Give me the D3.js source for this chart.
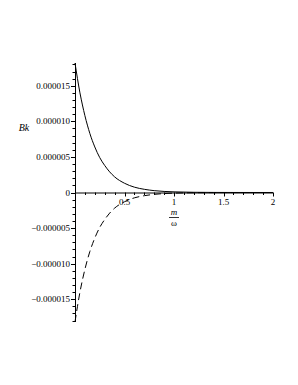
<!DOCTYPE html>
<html><head><meta charset="utf-8">
<script src="https://cdn.jsdelivr.net/npm/d3@7"></script>
<style>body{margin:0;background:#fff}svg{display:block}</style>
</head><body>
<script>
// data (values in units of 1e-6)
const xs = [0, 0.025, 0.05, 0.075, 0.1, 0.15, 0.2, 0.25, 0.3, 0.35, 0.4, 0.5, 0.6, 0.7, 0.8, 0.9, 1.0, 1.2, 1.4, 1.6, 1.8, 2.0];
const upper = [18.2, 16.0, 14.0, 12.3, 10.8, 8.3, 6.4, 4.9, 3.8, 2.9, 2.2, 1.3, 0.75, 0.45, 0.26, 0.15, 0.09, 0.03, 0.01, 0.004, 0.002, 0.001];
const lower = [-18.2, -16.0, -14.0, -12.3, -10.8, -8.3, -6.4, -4.9, -3.8, -2.9, -2.2, -1.3, -0.75, -0.45, -0.26, -0.15, -0.09, -0.03, -0.01, -0.004, -0.002, -0.001];
const xTicks = [0.5, 1, 1.5, 2];
const xTickLabels = ["0.5", "1", "1.5", "2"];
const yTicks = [15, 10, 5, 0, -5, -10, -15];
const yTickLabels = ["0.000015", "0.000010", "0.000005", "0", "\u22120.000005", "\u22120.000010", "\u22120.000015"];

const W = 298, H = 385;
const svg = d3.select("body").append("svg").attr("width", W).attr("height", H);
const x = d3.scaleLinear().domain([0, 2]).range([75, 273]);
const y = d3.scaleLinear().domain([-18.2, 18.2]).range([322, 63]);
const font = "Liberation Serif, Times New Roman, serif";

// axes lines
const g = svg.append("g").attr("stroke", "#000").attr("stroke-width", 1);
g.append("line").attr("x1", x(0)).attr("x2", x(2)).attr("y1", y(0)+0.5).attr("y2", y(0)+0.5);
g.append("line").attr("x1", x(0)+0.5).attr("x2", x(0)+0.5).attr("y1", y(18.2)).attr("y2", y(-18.2));

// x minor ticks
const xMinor = d3.range(0.1, 2.001, 0.1);
g.selectAll(".xm").data(xMinor).enter().append("line")
  .attr("x1", d => Math.round(x(d))+0.5).attr("x2", d => Math.round(x(d))+0.5)
  .attr("y1", y(0)).attr("y2", d => y(0) + (Math.abs(d*2 - Math.round(d*2)) < 1e-6 ? 4 : 2.5));
// y minor ticks
const yMinor = d3.range(-18, 18.001, 1);
g.selectAll(".ym").data(yMinor).enter().append("line")
  .attr("y1", d => Math.round(y(d))+0.5).attr("y2", d => Math.round(y(d))+0.5)
  .attr("x1", x(0)).attr("x2", d => x(0) - (d % 5 === 0 ? 4 : 2.5));

// tick labels
svg.selectAll(".xl").data(xTicks).enter().append("text")
  .attr("x", d => x(d)).attr("y", y(0) + 12)
  .attr("text-anchor", "middle").attr("font-family", font).attr("font-size", 9)
  .text((d, i) => xTickLabels[i]);
svg.selectAll(".yl").data(yTicks).enter().append("text")
  .attr("x", x(0) - 5).attr("y", d => y(d) + 3)
  .attr("text-anchor", "end").attr("font-family", font).attr("font-size", 9)
  .text((d, i) => yTickLabels[i]);

// axis labels
svg.append("text").attr("x", 24).attr("y", 131).attr("text-anchor", "middle")
  .attr("font-family", font).attr("font-style", "italic").attr("font-size", 10).text("Bk");
const xl = svg.append("g").attr("transform", `translate(${x(1)},0)`);
xl.append("text").attr("y", 215).attr("text-anchor", "middle")
  .attr("font-family", font).attr("font-style", "italic").attr("font-size", 9).text("m");
xl.append("line").attr("x1", -5).attr("x2", 5).attr("y1", 217.5).attr("y2", 217.5).attr("stroke", "#000").attr("stroke-width", 0.8);
xl.append("text").attr("y", 226).attr("text-anchor", "middle")
  .attr("font-family", font).attr("font-size", 9).text("\u03c9");

// curves
const line = d3.line().x((d, i) => x(xs[i])).y(d => y(d)).curve(d3.curveMonotoneX);
svg.append("path").datum(upper).attr("d", line).attr("fill", "none").attr("stroke", "#000").attr("stroke-width", 1);
svg.append("path").datum(lower).attr("d", line).attr("fill", "none").attr("stroke", "#000").attr("stroke-width", 1)
  .attr("stroke-dasharray", "7,4");
</script>
</body></html>
